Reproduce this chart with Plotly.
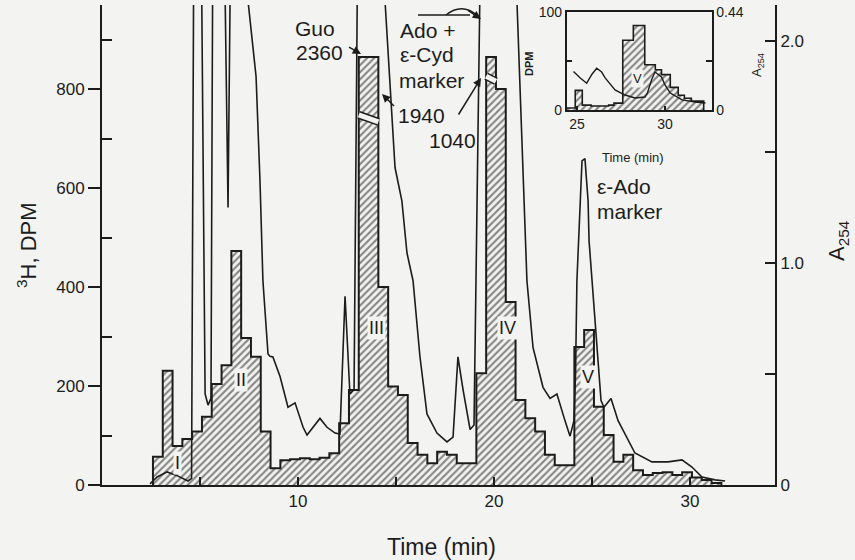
import plotly.graph_objects as go

# ---------------- data ----------------
# 3H radioactivity per 0.5-min fraction (main chromatogram)
frac_start_min = [2.6, 3.1, 3.6, 4.1, 4.6, 5.1, 5.6, 6.1, 6.6, 7.1, 7.6, 8.1, 8.6, 9.1, 9.6,
                  10.1, 10.6, 11.1, 11.6, 12.1, 12.6, 13.1, 13.6, 14.1, 14.6, 15.1, 15.6, 16.1,
                  16.6, 17.1, 17.6, 18.1, 18.6, 19.1, 19.6, 20.1, 20.6, 21.1, 21.6, 22.1, 22.6,
                  23.1, 23.6, 24.1, 24.6, 25.1, 25.6, 26.1, 26.6, 27.1, 27.6, 28.1, 28.6, 29.1,
                  29.6, 30.1, 30.6, 31.1]
frac_width_min = 0.5
h3_dpm = [57, 231, 79, 93, 108, 138, 204, 242, 473, 297, 259, 108, 34, 50, 52,
          54, 52, 55, 64, 125, 192, 2360, 1940, 400, 199, 182, 85, 61,
          44, 67, 61, 44, 44, 226, 1040, 800, 370, 172, 135, 108, 61,
          40, 40, 279, 313, 158, 101, 47, 61, 30, 20, 24, 26, 20,
          26, 15, 10, 4]

# A254 trace of the main chromatogram (values above 2.16 run off the scale)
a254_time = [2.45, 2.81, 3.32, 3.88, 4.39, 4.57, 4.69, 5.05, 5.26, 5.41, 5.56, 5.66, 6.22, 6.43,
             6.58, 7.45, 7.86, 8.06, 8.21, 8.47, 8.57, 8.72, 9.08, 9.49, 9.85, 10.26, 10.46,
             11.12, 11.48, 11.89, 12.14, 12.4, 12.65, 12.86, 13.06, 14.44, 14.95, 15.3, 15.56,
             15.87, 16.22, 16.58, 17.09, 17.6, 17.91, 18.16, 18.42, 18.78, 18.98, 19.34, 21.17,
             21.43, 21.68, 21.99, 22.5, 22.86, 23.21, 23.62, 23.88, 24.08, 24.16, 24.23, 24.39,
             24.49, 24.64, 24.8, 24.85, 25.0, 25.2, 25.46, 25.61, 25.97, 26.33, 27.19, 28.06,
             28.88, 29.59, 30.1, 30.61, 31.28, 31.79]
a254 = [0.005, 0.036, 0.059, 0.04, 0.018, 0.03, 2.6, 2.6, 0.41, 0.36, 0.39, 2.6, 2.6, 1.25,
        2.6, 2.18, 1.84, 1.37, 0.92, 0.59, 0.58, 0.577, 0.49, 0.35, 0.37, 0.26, 0.225,
        0.30, 0.26, 0.234, 0.23, 0.85, 0.41, 0.43, 2.6, 2.18, 1.43, 1.28, 1.045,
        0.92, 0.58, 0.32, 0.234, 0.194, 0.216, 0.577, 0.43, 0.25, 0.27, 2.6, 2.18,
        1.51, 0.92, 0.62, 0.44, 0.39, 0.41, 0.29, 0.22, 0.29, 0.50, 0.92, 1.28,
        1.46, 1.47, 1.28, 1.10, 0.92, 0.65, 0.38, 0.35, 0.39, 0.29, 0.144, 0.104,
        0.104, 0.113, 0.081, 0.036, 0.023, 0.018]

# inset: peak V region of a second run
inset_edges_min = [24.4, 24.9, 25.3, 25.8, 26.3, 26.8, 27.1, 27.6, 28.2, 28.85, 29.45, 29.8,
                   30.3, 30.75, 31.1, 31.5, 32.2]
inset_dpm = [2, 20, 5, 4, 4, 5, 7, 71, 86, 46, 41, 36, 23, 15, 12, 9]
inset_a254_time = [24.8, 25.17, 25.55, 25.85, 26.12, 26.4, 26.6, 27.16, 27.73, 28.3, 28.86,
                   29.0, 29.24, 29.43, 29.8, 30.0, 30.3, 30.97, 31.7, 32.3]
inset_a254 = [0.172, 0.144, 0.12, 0.16, 0.187, 0.17, 0.144, 0.09, 0.067, 0.054, 0.058,
              0.076, 0.135, 0.17, 0.148, 0.112, 0.076, 0.045, 0.036, 0.031]

peak_labels = ["I", "II", "III", "IV", "V"]
dpm_ticks = [0, 200, 400, 600, 800]
a254_ticks = [0, 1.0, 2.0]
time_ticks = [10, 20, 30]

assert len(frac_start_min) == len(h3_dpm)
assert len(a254_time) == len(a254)
assert len(inset_edges_min) == len(inset_dpm) + 1
assert len(inset_a254_time) == len(inset_a254)

# ---------------- styling / geometry ----------------
W, H = 855, 560
L, R, T, B = 102, 775, 5, 485
BG = "#f3f3f1"
INK = "#1c1c1c"
FONT = "Liberation Sans, Arial, sans-serif"
DPM_MAX = 970
A_MAX = 2.162
BREAK_CAP = 865          # off-scale fractions are drawn broken at this height


def P(px, py):
    """pixel position -> paper fraction"""
    return (px - L) / (R - L), (B - py) / (B - T)


def step_xy(edges, vals):
    xs = [edges[0]] + list(edges[:-1]) + [edges[-1], edges[-1]]
    ys = [0] + list(vals) + [vals[-1], 0]
    return xs, ys


hatch = dict(shape="/", size=5, solidity=0.42, fgcolor=INK, bgcolor=BG)

main_edges = frac_start_min + [frac_start_min[-1] + frac_width_min]
drawn = [min(v, BREAK_CAP) for v in h3_dpm]
mx, my = step_xy(main_edges, drawn)
ix, iy = step_xy(inset_edges_min, inset_dpm)

fig = go.Figure()
fig.add_trace(go.Scatter(x=mx, y=my, mode="lines", line=dict(color=INK, width=2, shape="hv"),
                         fill="tozeroy", fillpattern=hatch, fillcolor=BG,
                         xaxis="x", yaxis="y", hoverinfo="skip"))
fig.add_trace(go.Scatter(x=a254_time, y=a254, mode="lines", line=dict(color=INK, width=1.6),
                         xaxis="x", yaxis="y2", hoverinfo="skip"))
fig.add_trace(go.Scatter(x=ix, y=iy, mode="lines", line=dict(color=INK, width=1.6, shape="hv"),
                         fill="tozeroy", fillpattern=hatch, fillcolor=BG,
                         xaxis="x2", yaxis="y3", hoverinfo="skip"))
fig.add_trace(go.Scatter(x=inset_a254_time, y=inset_a254, mode="lines",
                         line=dict(color=INK, width=1.4),
                         xaxis="x2", yaxis="y4", hoverinfo="skip"))

axis_common = dict(showgrid=False, zeroline=False, showline=True, linecolor=INK,
                   tickcolor=INK, tickfont=dict(family=FONT, size=17, color=INK))

ix0, iy1 = P(566.7, 11.7)
ix1, iy0 = P(711.7, 110)

fig.update_layout(
    width=W, height=H, margin=dict(l=L, r=W - R, t=T, b=H - B, autoexpand=False),
    paper_bgcolor=BG, plot_bgcolor=BG, showlegend=False,
    font=dict(family=FONT, size=17, color=INK),
    xaxis=dict(**axis_common, range=[0, (R - L) / 19.6], linewidth=2, ticks="inside",
               ticklen=8, tickwidth=2, tickmode="array", tickvals=time_ticks,
               minor=dict(tickmode="array", tickvals=[5, 15, 25], ticks="inside",
                          ticklen=8, tickwidth=2, tickcolor=INK)),
    yaxis=dict(**axis_common, range=[0, DPM_MAX], linewidth=2, ticks="outside",
               ticklen=12, tickwidth=2, tickmode="array", tickvals=dpm_ticks,
               minor=dict(tickmode="array", tickvals=[100, 300, 500, 700, 900],
                          ticks="inside", ticklen=10, tickwidth=2, tickcolor=INK)),
    yaxis2=dict(**axis_common, overlaying="y", side="right", anchor="x", range=[0, A_MAX],
                linewidth=2, ticks="inside", ticklen=10, tickwidth=2, tickmode="array",
                tickvals=a254_ticks, ticktext=["0", "1.0", "2.0"],
                minor=dict(tickmode="array", tickvals=[0.5, 1.5], ticks="inside",
                           ticklen=10, tickwidth=2, tickcolor=INK)),
    xaxis2=dict(showgrid=False, zeroline=False, showline=True, linecolor=INK, linewidth=1.5,
                mirror=True, domain=[ix0, ix1], anchor="y3",
                range=[25 - 10.3 / 17.6, 30 + 46.7 / 17.6], ticks="inside", ticklen=4,
                tickwidth=1.5, tickcolor=INK, tickmode="array", tickvals=[25, 30],
                tickfont=dict(family=FONT, size=14, color=INK)),
    yaxis3=dict(showgrid=False, zeroline=False, showline=True, linecolor=INK, linewidth=1.5,
                domain=[iy0, iy1], anchor="x2", range=[0, 100], ticks="inside",
                ticklen=6, tickwidth=1.5, tickcolor=INK, tickmode="array",
                tickvals=[0, 50, 100], ticktext=["0", " ", "100"],
                tickfont=dict(family=FONT, size=14, color=INK)),
    yaxis4=dict(showgrid=False, zeroline=False, showline=True, linecolor=INK, linewidth=1.5,
                overlaying="y3", side="right", anchor="x2", range=[0, 0.44], ticks="inside",
                ticklen=6, tickwidth=1.5, tickcolor=INK, tickmode="array",
                tickvals=[0, 0.22, 0.44], ticktext=["0", " ", "0.44"],
                tickfont=dict(family=FONT, size=14, color=INK)),
)

ann = []


def text(t, px, py, size=21, xanchor="center", yanchor="middle", angle=0, bg=None, weight=None):
    x, y = P(px, py)
    f = dict(family=FONT, size=size, color=INK)
    if weight:
        f["weight"] = weight
    d = dict(text=t, x=x, y=y, xref="paper", yref="paper", showarrow=False,
             xanchor=xanchor, yanchor=yanchor, textangle=angle, font=f)
    if bg:
        d.update(bgcolor=bg, borderpad=1)
    ann.append(d)


def arrow(hx, hy, tx, ty):
    x, y = P(hx, hy)
    ann.append(dict(text=" ", x=x, y=y, xref="paper", yref="paper", showarrow=True,
                    ax=tx - hx, ay=ty - hy, arrowhead=2, arrowsize=1.1, arrowwidth=1.5,
                    arrowcolor=INK, font=dict(size=2)))


# axis titles
text("Time (min)", 441, 547, size=23)
text("<sup>3</sup>H, DPM", 27, 245, size=22, angle=-90)
text("A<sub>254</sub>", 838, 240, size=22, angle=-90)
# inset titles
text("DPM", 529, 64, size=11, angle=-90, weight="bold")
text("A<sub>254</sub>", 757, 65, size=13, angle=-90)
text("Time (min)", 633, 157, size=13)

# peak annotations
text("Guo", 293, 28, xanchor="left")
text(str(h3_dpm[21]), 294, 53, xanchor="left")
text("Ado +", 398, 30, xanchor="left")
text("ε-Cyd", 398, 55, xanchor="left")
text("marker", 397, 80, xanchor="left")
text(str(h3_dpm[22]), 396, 116, xanchor="left")
text(str(h3_dpm[34]), 427, 140, xanchor="left")
text("ε-Ado", 595, 186, xanchor="left")
text("marker", 595, 211, xanchor="left")
arrow(361, 54, 347, 46)
arrow(382, 94, 396, 108)
arrow(481, 78, 457, 117)
arrow(481, 19, 466, 9)

# roman numerals on the hatched peaks
for lab, (px, py, sz) in zip(peak_labels, [(177, 463, 18), (241, 380, 18), (376, 328, 18),
                                             (507, 328, 18), (588, 377, 18)]):
    text(lab, px, py, size=sz, bg=BG)
text("V", 637, 78, size=13, bg=BG)

fig.update_layout(annotations=ann)

# break marks on off-scale fractions + the line/curve above "Ado +"
shapes = []
for (x0, x1, y0, y1) in [(13.1, 14.1, 748, 734), (19.6, 20.1, 826, 816)]:
    shapes.append(dict(type="line", xref="x", yref="y", x0=x0, x1=x1, y0=y0, y1=y1,
                       line=dict(color=INK, width=8), layer="above"))
    shapes.append(dict(type="line", xref="x", yref="y", x0=x0, x1=x1, y0=y0, y1=y1,
                       line=dict(color=BG, width=5), layer="above"))
a0 = P(418, 15)
a1 = P(470, 15)
shapes.append(dict(type="line", xref="paper", yref="paper", x0=a0[0], y0=a0[1], x1=a1[0],
                   y1=a1[1], line=dict(color=INK, width=1.5)))
c0, c1, c2 = P(446, 15), P(462, 2), P(478, 16)
shapes.append(dict(type="path", xref="paper", yref="paper",
                   path=f"M {c0[0]},{c0[1]} Q {c1[0]},{c1[1]} {c2[0]},{c2[1]}",
                   line=dict(color=INK, width=1.5)))
fig.update_layout(shapes=shapes)

fig.write_html("out.html", config={"displayModeBar": False},
               post_script="document.body.style.margin='0';document.body.style.padding='0';")
